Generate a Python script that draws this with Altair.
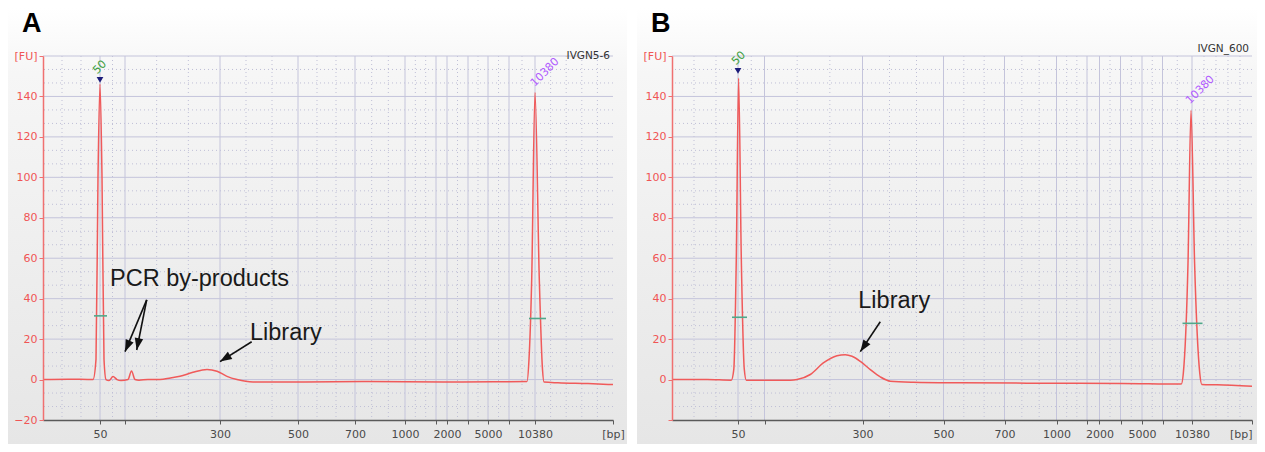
import altair as alt
import pandas as pd

# ---------------- data (migration position in arbitrary time units, fluorescence in FU) -------------
A_TIME = [15, 20, 25.0, 25.6, 26.0, 26.4, 26.8, 27.2, 27.6, 28.2, 29.0, 29.8, 30.6, 32.0, 32.7, 33.4,
          34.2, 36, 38.4, 40.5, 42.4, 45, 47.8, 49.8, 51.8, 53.8, 57, 66.4, 80, 95, 105, 111.8, 112.2,
          112.74, 113.4, 114.26, 114.9, 115.2, 118, 124, 129]
A_FU = [0, 0.2, 0, 10, 100, 146, 100, 10, 0, -0.5, 1.5, 0, -0.5, 0, 4.2, 0,
        -0.3, 0, 0, 0.8, 1.6, 3.6, 5, 4.1, 1.6, 0, -1.2, -1.2, -1.0, -1.2, -1.1, -1.0, 10,
        49.5, 142, 49.5, 5, -1.2, -1.6, -2.0, -2.5]

B_TIME = [15, 22, 26.86, 27.36, 27.86, 28.32, 28.86, 29.46, 29.86, 33, 38.7, 40, 42.66, 45.26, 48,
          49.66, 51, 52.66, 54.66, 56.66, 58.66, 63.26, 72.66, 90, 105, 116.86, 117.26, 118.2, 118.8,
          119.52, 120.56, 120.96, 124, 131]
B_FU = [0, 0, -0.3, 5, 60, 149, 60, 5, -0.3, -0.3, -0.3, 0, 2.5, 8.2, 11.8,
        12.3, 11.5, 9, 4.9, 1.3, -0.8, -1.3, -1.6, -1.8, -1.9, -2.2, 3, 57.5, 133,
        57.5, 3, -2.4, -2.6, -3.3]

TICK_LABELS = ["50", "", "300", "500", "700", "1000", "", "2000", "", "5000", "", "10380", "[bp]"]
A_TICKS = [26.4, 31.4, 50.4, 66.0, 77.4, 87.4, 93.6, 95.8, 100.0, 104.0, 108.2, 113.4, 129.0]
B_TICKS = [28.2, 33.5, 53.1, 69.3, 81.5, 91.9, 98.0, 100.5, 104.7, 109.0, 113.1, 119.0, 131.0]
Y_TICKS = [-20, 0, 20, 40, 60, 80, 100, 120, 140, 160]

# half-height marker bars
A_BAR_T1 = [25.2, 112.2]
A_BAR_T2 = [27.8, 115.6]
A_BAR_FU = [31.5, 30.2]
B_BAR_T1 = [27.0, 117.1]
B_BAR_T2 = [30.0, 121.1]
B_BAR_FU = [30.8, 27.8]

# lower marker triangle
A_MARK = (26.4, 148.2)
B_MARK = (28.2, 152.6)

# peak labels
PEAK_TEXT = ["50", "10380"]
PEAK_COLOR = ["#3f9f3f", "#b15cff"]
A_PEAK_T = [26.4, 115.4]
A_PEAK_FU = [154.4, 151.9]
B_PEAK_T = [28.36, 120.66]
B_PEAK_FU = [158.8, 143.2]

# annotation arrows (start -> head) and texts
A_ARROW_T1 = [35.74, 35.74, 56.74]
A_ARROW_FU1 = [39.4, 39.4, 18.7]
A_ARROW_T2 = [31.4, 33.74, 50.4]
A_ARROW_FU2 = [13.8, 14.6, 8.9]
A_ARROW_ANGLE = [203, 191, 238]
B_ARROW_T1 = [56.66]
B_ARROW_FU1 = [28.6]
B_ARROW_T2 = [52.66]
B_ARROW_FU2 = [13.8]
B_ARROW_ANGLE = [214]

A_NOTE_TEXT = ["PCR by-products", "Library"]
A_NOTE_T = [28.4, 56.4]
A_NOTE_FU = [46.4, 19.6]
B_NOTE_TEXT = ["Library"]
B_NOTE_T = [52.26]
B_NOTE_FU = [35.4]

# ---------------- styling ----------------
TRACE = "#f05a5a"
GRID = "#c4c4db"
MINOR = "#bfbfd6"
AXIS_FONT = "DejaVu Sans"
NOTE_FONT = "Liberation Sans"
HEIGHT = 364
PX_PER_UNIT = 5.0
ARROW_PATH = "M0,0 L0.36,1 L-0.36,1 Z"

backdrop = alt.Gradient(
    gradient="linear", x1=0, x2=0, y1=0, y2=1,
    stops=[alt.GradientStop(color="#ffffff", offset=0),
           alt.GradientStop(color="#f6f6f6", offset=0.15),
           alt.GradientStop(color="#e6e6e6", offset=1)],
)


def label_expr(ticks, labels):
    s = ""
    for v, lab in zip(ticks, labels):
        s += f"datum.value == {v} ? '{lab}' : "
    return s + "''"


def minor_x(ticks, start, end):
    majors = ticks[:-1]
    bounds = [start] + majors + [end]
    out = []
    for i in range(len(bounds) - 1):
        a, b = bounds[i], bounds[i + 1]
        gap = (b - a) * PX_PER_UNIT
        if i == len(bounds) - 2:
            n = 5
        elif gap >= 30:
            n = 3
        elif gap >= 15:
            n = 2
        else:
            n = 1
        for k in range(1, n):
            out.append(a + (b - a) * k / n)
    return out


def panel(times, fu, ticks, t_end, width, letter, name, name_dy, bars, mark, peaks,
          arrows, notes, hide_bottom, last_right):
    xs = alt.Scale(domain=[15, t_end], nice=False, zero=False)
    ys = alt.Scale(domain=[-20, 160], nice=False, zero=False)

    xaxis = alt.Axis(values=ticks, labelExpr=label_expr(ticks, TICK_LABELS), title=None,
                     grid=False, domainColor="#5a5a5a", tickColor="#5a5a5a", labelColor="#4a4a4a",
                     labelFont=AXIS_FONT, labelFontSize=11, tickSize=4, labelPadding=4,
                     domainWidth=1.3, labelOverlap=False, labelFlush=False, zindex=1,
                     labelAlign=({"condition": {"test": f"datum.value == {t_end}", "value": "right"},
                                  "value": "center"} if last_right else "center"))
    yexpr = "datum.value == 160 ? '[FU]' : " + ("datum.value == -20 ? '' : " if hide_bottom else "") + "datum.label"
    yaxis = alt.Axis(values=Y_TICKS, labelExpr=yexpr, title=None, grid=False, zindex=1,
                     domainColor="#f07070", tickColor="#f07070", labelColor="#f05555",
                     domainWidth=1.5, labelFont=AXIS_FONT, labelFontSize=11, tickSize=4,
                     labelPadding=2)

    def X(field):
        return alt.X(field, scale=xs, axis=xaxis)

    def Y(field):
        return alt.Y(field, scale=ys, axis=yaxis)

    df = pd.DataFrame({"t": times, "fu": fu})

    back = alt.Chart(pd.DataFrame({"k": [0]})).mark_rect(color=backdrop).encode(
        x=alt.value(-35), x2=alt.value(width + (14 if not last_right else 5)),
        y=alt.value(-48), y2=alt.value(HEIGHT + 24))

    hminor = []
    for v in Y_TICKS[:-1]:
        hminor += [v + 20 / 3, v + 40 / 3]
    hmin = alt.Chart(pd.DataFrame({"fu": hminor})).mark_rule(
        color=MINOR, strokeDash=[1, 3], strokeWidth=1).encode(y=Y("fu:Q"))
    hmaj = alt.Chart(pd.DataFrame({"fu": Y_TICKS[1:]})).mark_rule(
        color=GRID, strokeWidth=1).encode(y=Y("fu:Q"))
    vmin = alt.Chart(pd.DataFrame({"t": minor_x(ticks, 15, t_end)})).mark_rule(
        color=MINOR, strokeDash=[1, 3], strokeWidth=1).encode(x=X("t:Q"))
    vmaj = alt.Chart(pd.DataFrame({"t": ticks[:-1]})).mark_rule(
        color=GRID, strokeWidth=1).encode(x=X("t:Q"))

    line = alt.Chart(df).mark_line(color=TRACE, strokeWidth=1.5, interpolate="monotone").encode(
        x=X("t:Q"), y=Y("fu:Q"), order="t:Q")

    bar_df = pd.DataFrame({"t": bars[0], "t2": bars[1], "fu": bars[2]})
    bar = alt.Chart(bar_df).mark_rule(color="#4fa88a", strokeWidth=1.6).encode(
        x=X("t:Q"), x2="t2:Q", y=Y("fu:Q"))

    tri = alt.Chart(pd.DataFrame({"t": [mark[0]], "fu": [mark[1]]})).mark_point(
        shape="triangle-down", filled=True, color="#1c1c7a", size=45, opacity=1).encode(
        x=X("t:Q"), y=Y("fu:Q"))

    pk_df = pd.DataFrame({"t": peaks[0], "fu": peaks[1], "txt": PEAK_TEXT, "c": PEAK_COLOR})
    pk = alt.Chart(pk_df).mark_text(angle=315, font=AXIS_FONT, fontSize=11, align="center",
                                    baseline="middle").encode(
        x=X("t:Q"), y=Y("fu:Q"), text="txt:N", color=alt.Color("c:N", scale=None))

    ar_df = pd.DataFrame({"t": arrows[0], "fu": arrows[1], "t2": arrows[2], "fu2": arrows[3],
                          "ang": arrows[4]})
    shaft = alt.Chart(ar_df).mark_rule(color="#111111", strokeWidth=1.6).encode(
        x=X("t:Q"), y=Y("fu:Q"), x2="t2:Q", y2="fu2:Q")
    head = alt.Chart(ar_df).mark_point(shape=ARROW_PATH, filled=True, color="#111111",
                                       size=560, opacity=1).encode(
        x=X("t2:Q"), y=Y("fu2:Q"), angle=alt.Angle("ang:Q", scale=None))

    nt_df = pd.DataFrame({"t": notes[0], "fu": notes[1], "txt": notes[2]})
    nt = alt.Chart(nt_df).mark_text(font=NOTE_FONT, fontSize=23.5, color="#1a1a1a", align="left",
                                    baseline="alphabetic").encode(
        x=X("t:Q"), y=Y("fu:Q"), text="txt:N")

    lt = alt.Chart(pd.DataFrame({"txt": [letter]})).mark_text(
        font=NOTE_FONT, fontSize=27, fontWeight="bold", color="#000000", align="left",
        baseline="alphabetic").encode(x=alt.value(-21), y=alt.value(-24), text="txt:N")
    nm = alt.Chart(pd.DataFrame({"txt": [name]})).mark_text(
        font=AXIS_FONT, fontSize=10.5, color="#333333", align="right",
        baseline="alphabetic").encode(x=alt.value(width - 3), y=alt.value(name_dy), text="txt:N")

    return alt.layer(back, hmin, vmin, hmaj, vmaj, line, bar, tri, pk, shaft, head, nt, lt, nm).properties(
        width=width, height=HEIGHT)


pA = panel(A_TIME, A_FU, A_TICKS, 129.0, 570, "A", "IVGN5-6", 3,
           (A_BAR_T1, A_BAR_T2, A_BAR_FU), A_MARK, (A_PEAK_T, A_PEAK_FU),
           (A_ARROW_T1, A_ARROW_FU1, A_ARROW_T2, A_ARROW_FU2, A_ARROW_ANGLE),
           (A_NOTE_T, A_NOTE_FU, A_NOTE_TEXT), False, False)
pB = panel(B_TIME, B_FU, B_TICKS, 131.0, 580, "B", "IVGN_600", -4,
           (B_BAR_T1, B_BAR_T2, B_BAR_FU), B_MARK, (B_PEAK_T, B_PEAK_FU),
           (B_ARROW_T1, B_ARROW_FU1, B_ARROW_T2, B_ARROW_FU2, B_ARROW_ANGLE),
           (B_NOTE_T, B_NOTE_FU, B_NOTE_TEXT), True, True)

chart = alt.hconcat(pA, pB, spacing=59, bounds="flush").properties(
    padding=0, background="white").configure_view(stroke=None)

chart.save("out.html", embed_options={"renderer": "svg", "actions": False})
